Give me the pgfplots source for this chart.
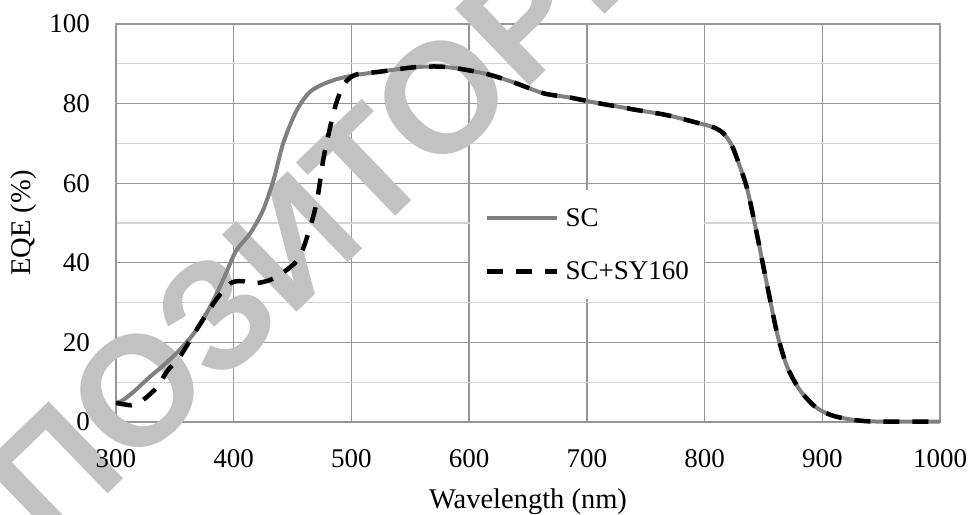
\documentclass[border=0pt]{standalone}
\usepackage{fontspec}
\setmainfont{Liberation Serif}
\newfontfamily\wmfont{Liberation Sans}
\usepackage{pgfplots}
\pgfplotsset{compat=1.18}
\usepackage{pgfplotstable}

\definecolor{majgrid}{RGB}{150,150,150}
\definecolor{mingrid}{RGB}{212,212,212}
\definecolor{scgray}{RGB}{128,128,128}
\definecolor{wmgray}{RGB}{194,194,194}

% EQE of the bare cell
\pgfplotstableread{
x y
300 4.8
305 5.3
315 7.6
329 11.4
341 14.4
354 18.1
368 23.0
380 29.0
391 35.7
402 43.0
414 47.4
425 53.3
434 61.0
442 70.0
453 78.0
465 83.0
482 85.6
500 87.0
524 88.0
552 89.1
575 89.3
595 88.6
618 87.2
640 85.1
663 82.6
686 81.5
708 80.2
731 79.0
740 78.5
768 77.1
796 75.0
808 74.0
816 72.5
823 69.6
829 65.0
836 58.8
843 49.3
850 39.0
856 30.2
862 21.8
870 14.0
881 8.0
895 3.6
910 1.5
930 0.4
950 0.1
1000 0.1
}\sc

% EQE with the SY160 layer
\pgfplotstableread{
x y
300 4.8
313 4.2
319 4.8
325 6.0
335 8.8
344 13.0
354 16.3
368 23.0
385 30.7
397 34.8
407 35.4
417 34.8
431 35.7
445 38.2
456 41.5
465 49.0
471 56.0
476 65.8
482 74.2
487 80.0
494 85.0
504 87.3
524 88.0
552 89.1
575 89.3
595 88.6
618 87.2
640 85.1
663 82.6
686 81.5
708 80.2
731 79.0
740 78.5
768 77.1
796 75.0
808 74.0
816 72.5
823 69.6
829 65.0
836 58.8
843 49.3
850 39.0
856 30.2
862 21.8
870 14.0
881 8.0
895 3.6
910 1.5
930 0.4
950 0.1
1000 0.1
}\scsy

\pgfplotsset{
  eqe/.style={
    scale only axis, width=824pt, height=398pt,
    at={(116pt,92pt)}, anchor=south west,
    xmin=300, xmax=1000, ymin=0, ymax=100,
    xtick={300,400,...,1000}, ytick={0,20,...,100},
    major tick length=0pt, minor tick length=0pt,
  }
}

\begin{document}
\begin{tikzpicture}
\path[use as bounding box] (0pt,0pt) rectangle (971pt,514pt);

% grid and frame
\begin{axis}[eqe,
  minor y tick num=1,
  xmajorgrids, ymajorgrids, yminorgrids,
  major grid style={majgrid, line width=1.3pt},
  minor grid style={mingrid, line width=1.3pt},
  axis line style={majgrid, line width=1.3pt},
  xticklabels={}, yticklabels={},
]
\end{axis}

% watermark
\begin{scope}
\clip (0pt,0pt) rectangle (971pt,514pt);
\node[rotate=44, anchor=base, text=wmgray, inner sep=0pt,
  font=\wmfont\bfseries\fontsize{156}{160}\selectfont] at (330pt,234pt) {РЕПОЗИТОРИЙ};
\end{scope}

% curves, labels, legend
\begin{axis}[eqe,
  clip=false,
  axis line style={draw=none},
  /pgf/number format/assume math mode=true,
  /pgf/number format/1000 sep={},
  tick label style={font=\fontsize{27}{30}\selectfont, inner sep=0pt},
  yticklabel style={xshift=-26pt},
  xticklabel style={yshift=-27pt},
  xlabel={Wavelength (nm)}, ylabel={EQE (\%)},
  label style={font=\fontsize{28.5}{32}\selectfont, inner sep=0pt},
  xlabel style={at={(axis description cs:0.5,-0.2161)}, anchor=base},
  ylabel style={at={(axis description cs:-0.1117,0.5)}, anchor=center},
  legend style={at={(0.4296,0.583)}, anchor=north west, draw=none, fill=white,
    inner xsep=15pt, inner ysep=18pt, row sep=34pt,
    font=\fontsize{27}{30}\selectfont, nodes={inner sep=0pt}},
  legend cell align=left,
  legend image code/.code={\draw[#1] (0pt,0pt) -- (70pt,0pt); \path (76pt,0pt);},
]
\addplot[scgray, line width=4pt, smooth] table {\sc};
\addplot[black, line width=4.5pt, dash pattern=on 16pt off 13pt, smooth] table {\scsy};
\legend{SC, SC+SY160}
\end{axis}
\end{tikzpicture}
\end{document}
